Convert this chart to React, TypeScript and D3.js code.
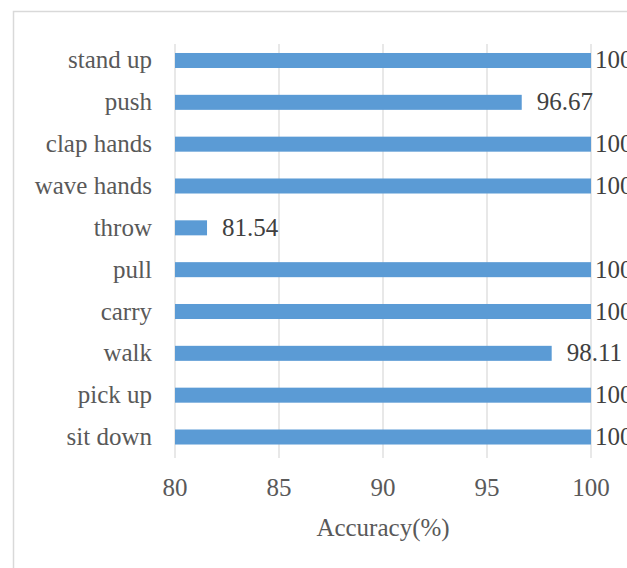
import React from "react";
import * as d3 from "d3";

// Recognition accuracy per action class
const categories = [
  "stand up",
  "push",
  "clap hands",
  "wave hands",
  "throw",
  "pull",
  "carry",
  "walk",
  "pick up",
  "sit down",
];
const accuracy = [100, 96.67, 100, 100, 81.54, 100, 100, 98.11, 100, 100];
const xTicks = [80, 85, 90, 95, 100];
const axisTitle = "Accuracy(%)";

const W = 627;
const H = 568;
const FONT = "Liberation Serif";
const FS = 25;

export default function App() {
  const x = d3.scaleLinear().domain([80, 100]).range([175, 591]);
  const y = d3
    .scaleBand<string>()
    .domain(categories)
    .range([39.6, 457.9])
    .paddingInner(0.641)
    .paddingOuter(0.32);

  const digitW = (s: string) =>
    s.split("").reduce((a, c) => a + (c === "." ? 0.25 : 0.5), 0) * FS;

  const txt = { fontFamily: FONT, fontSize: FS };

  return (
    <svg
      width={W}
      height={H}
      style={{ position: "absolute", left: 0, top: 0, background: "#fff" }}
    >
      <rect
        x={13.5}
        y={11.5}
        width={800}
        height={800}
        fill="#fff"
        stroke="#d9d9d9"
        strokeWidth={1.5}
      />
      {xTicks.map((t) => (
        <g key={t}>
          <line
            x1={x(t)}
            x2={x(t)}
            y1={44}
            y2={458}
            stroke="#d9d9d9"
            strokeWidth={1.2}
          />
          <text x={x(t)} y={496} textAnchor="middle" style={txt} fill="#595959">
            {t}
          </text>
        </g>
      ))}
      {categories.map((c, i) => {
        const v = accuracy[i];
        const yc = (y(c) as number) + y.bandwidth() / 2;
        const end = x(v);
        const label = String(v);
        const w = digitW(label);
        const lx = end + 15 + w <= W ? end + 15 : end + 4;
        return (
          <g key={c}>
            <text x={152} y={yc + 8} textAnchor="end" style={txt} fill="#595959">
              {c}
            </text>
            <rect
              x={x(80)}
              y={y(c)}
              width={end - x(80)}
              height={y.bandwidth()}
              fill="#5b9bd5"
            />
            <text x={lx} y={yc + 8} style={txt} fill="#404040">
              {label}
            </text>
          </g>
        );
      })}
      <text
        x={(x(80) + x(100)) / 2}
        y={536}
        textAnchor="middle"
        style={txt}
        fill="#595959"
      >
        {axisTitle}
      </text>
    </svg>
  );
}
